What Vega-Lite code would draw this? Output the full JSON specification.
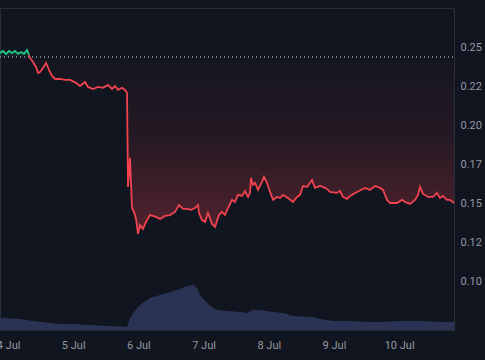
{
  "$schema": "https://vega.github.io/schema/vega-lite/v6.json",
  "width": 454,
  "height": 322,
  "autosize": {"type": "none"},
  "padding": {"left": 0, "top": 8, "right": 31, "bottom": 30},
  "background": "#10151f",
  "config": {"view": {"stroke": "#2a2e39", "strokeWidth": 1}, "font": "Roboto"},
  "datasets": {
    "price": [
      {"t": "2024-07-03T21:03", "p": 0.2468, "seg": "up"},
      {"t": "2024-07-03T22:10", "p": 0.2481, "seg": "up"},
      {"t": "2024-07-03T23:16", "p": 0.2462, "seg": "up"},
      {"t": "2024-07-04T00:22", "p": 0.2481, "seg": "up"},
      {"t": "2024-07-04T01:28", "p": 0.2468, "seg": "up"},
      {"t": "2024-07-04T02:35", "p": 0.2481, "seg": "up"},
      {"t": "2024-07-04T03:41", "p": 0.2462, "seg": "up"},
      {"t": "2024-07-04T04:47", "p": 0.2474, "seg": "up"},
      {"t": "2024-07-04T05:53", "p": 0.2462, "seg": "up"},
      {"t": "2024-07-04T07:00", "p": 0.2487, "seg": "up"},
      {"t": "2024-07-04T07:44", "p": 0.2455, "seg": "up"},
      {"t": "2024-07-04T07:44", "p": 0.2455, "seg": "down"},
      {"t": "2024-07-04T08:06", "p": 0.2436, "seg": "down"},
      {"t": "2024-07-04T09:12", "p": 0.2410, "seg": "down"},
      {"t": "2024-07-04T10:19", "p": 0.2378, "seg": "down"},
      {"t": "2024-07-04T11:03", "p": 0.2340, "seg": "down"},
      {"t": "2024-07-04T11:47", "p": 0.2346, "seg": "down"},
      {"t": "2024-07-04T12:53", "p": 0.2372, "seg": "down"},
      {"t": "2024-07-04T13:59", "p": 0.2404, "seg": "down"},
      {"t": "2024-07-04T15:06", "p": 0.2359, "seg": "down"},
      {"t": "2024-07-04T16:12", "p": 0.2321, "seg": "down"},
      {"t": "2024-07-04T17:18", "p": 0.2301, "seg": "down"},
      {"t": "2024-07-04T19:09", "p": 0.2301, "seg": "down"},
      {"t": "2024-07-04T20:59", "p": 0.2295, "seg": "down"},
      {"t": "2024-07-04T22:50", "p": 0.2295, "seg": "down"},
      {"t": "2024-07-05T01:02", "p": 0.2276, "seg": "down"},
      {"t": "2024-07-05T02:30", "p": 0.2256, "seg": "down"},
      {"t": "2024-07-05T04:21", "p": 0.2282, "seg": "down"},
      {"t": "2024-07-05T05:27", "p": 0.2250, "seg": "down"},
      {"t": "2024-07-05T07:18", "p": 0.2237, "seg": "down"},
      {"t": "2024-07-05T09:08", "p": 0.2250, "seg": "down"},
      {"t": "2024-07-05T10:59", "p": 0.2244, "seg": "down"},
      {"t": "2024-07-05T12:49", "p": 0.2263, "seg": "down"},
      {"t": "2024-07-05T14:17", "p": 0.2237, "seg": "down"},
      {"t": "2024-07-05T15:24", "p": 0.2256, "seg": "down"},
      {"t": "2024-07-05T16:30", "p": 0.2231, "seg": "down"},
      {"t": "2024-07-05T17:58", "p": 0.2244, "seg": "down"},
      {"t": "2024-07-05T19:05", "p": 0.2231, "seg": "down"},
      {"t": "2024-07-05T19:49", "p": 0.2212, "seg": "down"},
      {"t": "2024-07-05T20:11", "p": 0.1609, "seg": "down"},
      {"t": "2024-07-05T20:55", "p": 0.1795, "seg": "down"},
      {"t": "2024-07-05T21:39", "p": 0.1474, "seg": "down"},
      {"t": "2024-07-05T22:23", "p": 0.1449, "seg": "down"},
      {"t": "2024-07-05T23:08", "p": 0.1404, "seg": "down"},
      {"t": "2024-07-05T23:52", "p": 0.1308, "seg": "down"},
      {"t": "2024-07-06T00:36", "p": 0.1365, "seg": "down"},
      {"t": "2024-07-06T01:42", "p": 0.1340, "seg": "down"},
      {"t": "2024-07-06T02:48", "p": 0.1385, "seg": "down"},
      {"t": "2024-07-06T04:17", "p": 0.1429, "seg": "down"},
      {"t": "2024-07-06T05:23", "p": 0.1423, "seg": "down"},
      {"t": "2024-07-06T06:29", "p": 0.1417, "seg": "down"},
      {"t": "2024-07-06T07:58", "p": 0.1404, "seg": "down"},
      {"t": "2024-07-06T09:48", "p": 0.1423, "seg": "down"},
      {"t": "2024-07-06T11:39", "p": 0.1429, "seg": "down"},
      {"t": "2024-07-06T13:29", "p": 0.1449, "seg": "down"},
      {"t": "2024-07-06T14:57", "p": 0.1494, "seg": "down"},
      {"t": "2024-07-06T16:26", "p": 0.1468, "seg": "down"},
      {"t": "2024-07-06T17:54", "p": 0.1468, "seg": "down"},
      {"t": "2024-07-06T19:22", "p": 0.1462, "seg": "down"},
      {"t": "2024-07-06T20:51", "p": 0.1474, "seg": "down"},
      {"t": "2024-07-06T21:57", "p": 0.1494, "seg": "down"},
      {"t": "2024-07-06T22:19", "p": 0.1442, "seg": "down"},
      {"t": "2024-07-06T23:25", "p": 0.1397, "seg": "down"},
      {"t": "2024-07-07T00:32", "p": 0.1385, "seg": "down"},
      {"t": "2024-07-07T01:38", "p": 0.1442, "seg": "down"},
      {"t": "2024-07-07T03:06", "p": 0.1372, "seg": "down"},
      {"t": "2024-07-07T04:13", "p": 0.1353, "seg": "down"},
      {"t": "2024-07-07T05:41", "p": 0.1429, "seg": "down"},
      {"t": "2024-07-07T06:47", "p": 0.1449, "seg": "down"},
      {"t": "2024-07-07T07:54", "p": 0.1429, "seg": "down"},
      {"t": "2024-07-07T09:00", "p": 0.1474, "seg": "down"},
      {"t": "2024-07-07T10:28", "p": 0.1526, "seg": "down"},
      {"t": "2024-07-07T11:34", "p": 0.1513, "seg": "down"},
      {"t": "2024-07-07T12:41", "p": 0.1558, "seg": "down"},
      {"t": "2024-07-07T14:09", "p": 0.1551, "seg": "down"},
      {"t": "2024-07-07T15:15", "p": 0.1583, "seg": "down"},
      {"t": "2024-07-07T16:22", "p": 0.1545, "seg": "down"},
      {"t": "2024-07-07T17:06", "p": 0.1571, "seg": "down"},
      {"t": "2024-07-07T17:28", "p": 0.1667, "seg": "down"},
      {"t": "2024-07-07T18:12", "p": 0.1622, "seg": "down"},
      {"t": "2024-07-07T18:56", "p": 0.1635, "seg": "down"},
      {"t": "2024-07-07T20:03", "p": 0.1590, "seg": "down"},
      {"t": "2024-07-07T21:31", "p": 0.1641, "seg": "down"},
      {"t": "2024-07-07T22:15", "p": 0.1673, "seg": "down"},
      {"t": "2024-07-07T23:21", "p": 0.1635, "seg": "down"},
      {"t": "2024-07-08T00:28", "p": 0.1577, "seg": "down"},
      {"t": "2024-07-08T01:34", "p": 0.1526, "seg": "down"},
      {"t": "2024-07-08T03:02", "p": 0.1545, "seg": "down"},
      {"t": "2024-07-08T04:08", "p": 0.1538, "seg": "down"},
      {"t": "2024-07-08T05:15", "p": 0.1558, "seg": "down"},
      {"t": "2024-07-08T07:05", "p": 0.1538, "seg": "down"},
      {"t": "2024-07-08T08:56", "p": 0.1513, "seg": "down"},
      {"t": "2024-07-08T10:24", "p": 0.1545, "seg": "down"},
      {"t": "2024-07-08T11:30", "p": 0.1558, "seg": "down"},
      {"t": "2024-07-08T12:37", "p": 0.1615, "seg": "down"},
      {"t": "2024-07-08T14:05", "p": 0.1609, "seg": "down"},
      {"t": "2024-07-08T15:11", "p": 0.1635, "seg": "down"},
      {"t": "2024-07-08T15:55", "p": 0.1654, "seg": "down"},
      {"t": "2024-07-08T17:02", "p": 0.1603, "seg": "down"},
      {"t": "2024-07-08T18:52", "p": 0.1615, "seg": "down"},
      {"t": "2024-07-08T19:58", "p": 0.1609, "seg": "down"},
      {"t": "2024-07-08T21:27", "p": 0.1596, "seg": "down"},
      {"t": "2024-07-08T22:33", "p": 0.1577, "seg": "down"},
      {"t": "2024-07-09T01:08", "p": 0.1571, "seg": "down"},
      {"t": "2024-07-09T02:14", "p": 0.1583, "seg": "down"},
      {"t": "2024-07-09T03:20", "p": 0.1545, "seg": "down"},
      {"t": "2024-07-09T04:49", "p": 0.1532, "seg": "down"},
      {"t": "2024-07-09T05:55", "p": 0.1551, "seg": "down"},
      {"t": "2024-07-09T08:29", "p": 0.1577, "seg": "down"},
      {"t": "2024-07-09T11:26", "p": 0.1603, "seg": "down"},
      {"t": "2024-07-09T13:17", "p": 0.1590, "seg": "down"},
      {"t": "2024-07-09T15:07", "p": 0.1615, "seg": "down"},
      {"t": "2024-07-09T16:57", "p": 0.1603, "seg": "down"},
      {"t": "2024-07-09T18:04", "p": 0.1590, "seg": "down"},
      {"t": "2024-07-09T19:32", "p": 0.1526, "seg": "down"},
      {"t": "2024-07-09T20:38", "p": 0.1506, "seg": "down"},
      {"t": "2024-07-09T23:13", "p": 0.1506, "seg": "down"},
      {"t": "2024-07-10T01:03", "p": 0.1526, "seg": "down"},
      {"t": "2024-07-10T02:10", "p": 0.1513, "seg": "down"},
      {"t": "2024-07-10T04:00", "p": 0.1500, "seg": "down"},
      {"t": "2024-07-10T05:51", "p": 0.1526, "seg": "down"},
      {"t": "2024-07-10T06:57", "p": 0.1558, "seg": "down"},
      {"t": "2024-07-10T07:41", "p": 0.1609, "seg": "down"},
      {"t": "2024-07-10T08:47", "p": 0.1564, "seg": "down"},
      {"t": "2024-07-10T10:38", "p": 0.1545, "seg": "down"},
      {"t": "2024-07-10T12:28", "p": 0.1545, "seg": "down"},
      {"t": "2024-07-10T13:56", "p": 0.1571, "seg": "down"},
      {"t": "2024-07-10T15:03", "p": 0.1538, "seg": "down"},
      {"t": "2024-07-10T16:09", "p": 0.1551, "seg": "down"},
      {"t": "2024-07-10T17:38", "p": 0.1526, "seg": "down"},
      {"t": "2024-07-10T18:44", "p": 0.1526, "seg": "down"},
      {"t": "2024-07-10T20:12", "p": 0.1506, "seg": "down"}
    ],
    "volume": [
      {"t": "2024-07-03T21:03", "v": 123},
      {"t": "2024-07-04T04:25", "v": 110},
      {"t": "2024-07-04T09:12", "v": 90},
      {"t": "2024-07-04T15:28", "v": 70},
      {"t": "2024-07-04T19:09", "v": 60},
      {"t": "2024-07-04T23:56", "v": 60},
      {"t": "2024-07-05T06:11", "v": 50},
      {"t": "2024-07-05T12:27", "v": 40},
      {"t": "2024-07-05T19:49", "v": 33},
      {"t": "2024-07-05T20:33", "v": 93},
      {"t": "2024-07-05T22:01", "v": 170},
      {"t": "2024-07-06T00:36", "v": 250},
      {"t": "2024-07-06T04:17", "v": 320},
      {"t": "2024-07-06T07:58", "v": 350},
      {"t": "2024-07-06T11:39", "v": 380},
      {"t": "2024-07-06T15:19", "v": 410},
      {"t": "2024-07-06T17:54", "v": 440},
      {"t": "2024-07-06T20:07", "v": 450},
      {"t": "2024-07-06T21:35", "v": 420},
      {"t": "2024-07-06T22:41", "v": 350},
      {"t": "2024-07-07T01:16", "v": 270},
      {"t": "2024-07-07T03:28", "v": 220},
      {"t": "2024-07-07T04:57", "v": 200},
      {"t": "2024-07-07T08:38", "v": 190},
      {"t": "2024-07-07T13:25", "v": 180},
      {"t": "2024-07-07T16:00", "v": 170},
      {"t": "2024-07-07T18:12", "v": 200},
      {"t": "2024-07-07T20:47", "v": 200},
      {"t": "2024-07-08T01:34", "v": 180},
      {"t": "2024-07-08T05:15", "v": 170},
      {"t": "2024-07-08T08:56", "v": 140},
      {"t": "2024-07-08T14:05", "v": 130},
      {"t": "2024-07-08T16:17", "v": 130},
      {"t": "2024-07-08T18:52", "v": 110},
      {"t": "2024-07-08T23:39", "v": 90},
      {"t": "2024-07-09T04:49", "v": 90},
      {"t": "2024-07-09T12:10", "v": 80},
      {"t": "2024-07-09T16:57", "v": 80},
      {"t": "2024-07-10T00:19", "v": 90},
      {"t": "2024-07-10T07:41", "v": 90},
      {"t": "2024-07-10T15:03", "v": 80},
      {"t": "2024-07-10T20:12", "v": 80}
    ]
  },
  "layer": [
    {
      "data": {"name": "volume"},
      "mark": {"type": "area", "color": "#2b3355", "opacity": 1},
      "encoding": {
        "x": {
          "field": "t", "type": "temporal",
          "scale": {"domain": [
            {"year": 2024, "month": 7, "date": 3, "hours": 21, "minutes": 3},
            {"year": 2024, "month": 7, "date": 10, "hours": 20, "minutes": 12}
          ]},
          "axis": {
            "title": null, "format": "%-d %b",
            "tickCount": {"interval": "day", "step": 1},
            "grid": false, "domain": false, "ticks": false,
            "labelPadding": 9, "labelColor": "#9598a1", "labelFontSize": 11,
            "labelOverlap": false, "labelFlush": false
          }
        },
        "y": {"field": "v", "type": "quantitative", "scale": {"domain": [0, 3220], "nice": false}, "axis": null}
      }
    },
    {
      "data": {"name": "price"},
      "encoding": {
        "x": {"field": "t", "type": "temporal"}
      },
      "layer": [
        {
          "transform": [{"filter": "datum.seg == 'down'"}],
          "mark": {
            "type": "area",
            "color": {
              "gradient": "linear", "x1": 0, "y1": 0, "x2": 0, "y2": 1,
              "stops": [
                {"offset": 0, "color": "rgba(240,67,79,0.02)"},
                {"offset": 0.45, "color": "rgba(240,67,79,0.09)"},
                {"offset": 1, "color": "rgba(240,67,79,0.30)"}
              ]
            }
          },
          "encoding": {
            "y": {
              "field": "p", "type": "quantitative",
              "scale": {"domain": [0.0692, 0.2756], "nice": false, "zero": false},
              "axis": {
                "orient": "right", "title": null,
                "values": [0.1, 0.125, 0.15, 0.175, 0.2, 0.225, 0.25],
                "labelExpr": "format(floor(datum.value*100+0.0001)/100, '.2f')",
                "domain": false, "ticks": false, "labelPadding": 6,
                "labelColor": "#9598a1", "labelFontSize": 11,
                "gridColor": "#222735", "gridWidth": 1
              }
            },
            "y2": {"datum": 0.2442}
          }
        },
        {
          "transform": [{"filter": "datum.seg == 'up'"}],
          "mark": {
            "type": "area",
            "color": {
              "gradient": "linear", "x1": 0, "y1": 0, "x2": 0, "y2": 1,
              "stops": [
                {"offset": 0, "color": "rgba(38,199,137,0.25)"},
                {"offset": 1, "color": "rgba(38,199,137,0.03)"}
              ]
            }
          },
          "encoding": {
            "y": {"field": "p", "type": "quantitative"},
            "y2": {"datum": 0.2442}
          }
        },
        {
          "mark": {"type": "rule", "color": "#787b86", "strokeDash": [1, 3], "strokeWidth": 1},
          "encoding": {"y": {"datum": 0.2442}, "x": {"value": 0}, "x2": {"value": 454}}
        },
        {
          "mark": {"type": "line", "strokeWidth": 1.8},
          "encoding": {
            "y": {"field": "p", "type": "quantitative"},
            "color": {
              "field": "seg", "type": "nominal",
              "scale": {"domain": ["up", "down"], "range": ["#26c789", "#f0434f"]},
              "legend": null
            }
          }
        }
      ]
    }
  ],
  "resolve": {"scale": {"y": "independent"}}
}
